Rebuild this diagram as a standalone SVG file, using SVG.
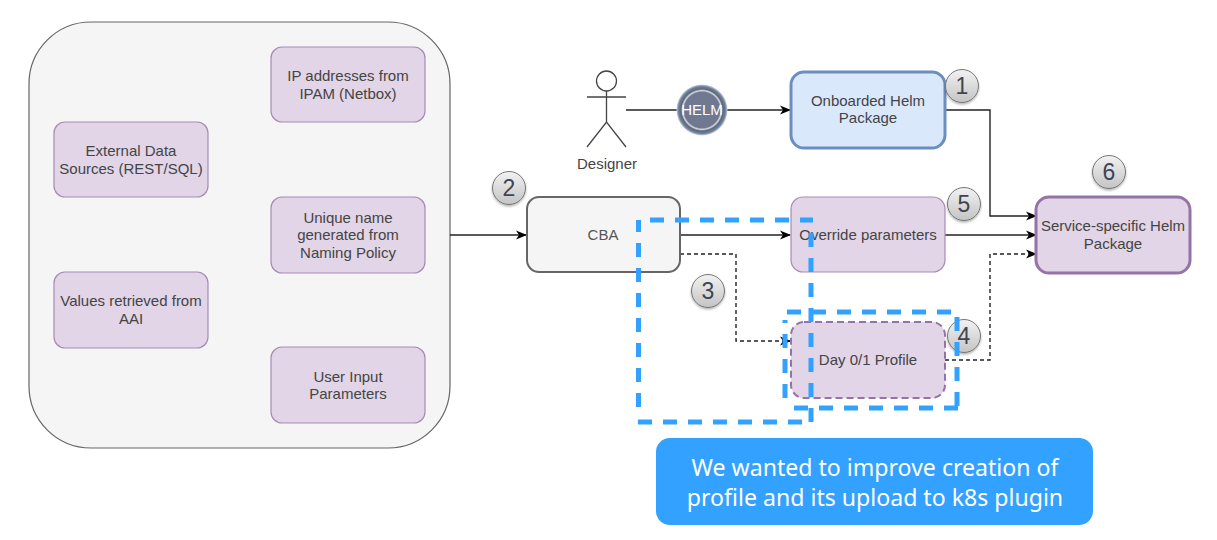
<svg xmlns="http://www.w3.org/2000/svg" width="1217" height="540" viewBox="0 0 1217 540">
<style>
text{font-family:"Liberation Sans",Arial,sans-serif;font-size:15px;fill:#444;text-anchor:middle}
.p{fill:#e1d5e7;stroke:#a78bb5;stroke-width:1.2}
.c{fill:none;stroke:#222;stroke-width:1.4}
.d{fill:none;stroke:#222;stroke-width:1.4;stroke-dasharray:4 3}
.b{fill:url(#bg);stroke:#777;stroke-width:1}
.n{font-size:23px;fill:#3f4550}
.h{fill:none;stroke:#33a1ff;stroke-width:5;stroke-dasharray:14 11}
.w{font-size:23.1px;fill:#fff;font-family:"Noto Sans","Open Sans",sans-serif}
</style>
<defs>
<marker id="ar" markerWidth="11" markerHeight="10" refX="10" refY="5" orient="auto" markerUnits="userSpaceOnUse" viewBox="0 0 11 10"><path d="M0 0.500L11 5L0 9.500L3 5Z" fill="#000"/></marker>
<linearGradient id="bg" x1="0" y1="0" x2="0" y2="1"><stop offset="0" stop-color="#f2f2f2"/><stop offset="1" stop-color="#c4c4c4"/></linearGradient>
<radialGradient id="hg" cx="0.5" cy="0.5" r="0.5"><stop offset="0" stop-color="#707a94"/><stop offset="0.7" stop-color="#6f7890"/><stop offset="0.76" stop-color="#d8dbe6"/><stop offset="0.82" stop-color="#5d6878"/><stop offset="0.92" stop-color="#6f8098"/><stop offset="1" stop-color="#c8d4f0"/></radialGradient>
<filter id="sh" x="-20%" y="-20%" width="140%" height="150%"><feDropShadow dx="0" dy="1.5" stdDeviation="1.2" flood-color="#000" flood-opacity="0.3"/></filter>
</defs>

<g id="container"><rect x="29" y="22" width="421" height="426" rx="62" ry="62" fill="#f5f5f5" stroke="#666" stroke-width="1.2"/></g>

<g id="connectors">
<path class="c" d="M450 235H526" marker-end="url(#ar)"/>
<path class="c" d="M626 110H790" marker-end="url(#ar)"/>
<path class="c" d="M945 110H990V216H1036" marker-end="url(#ar)"/>
<path class="c" d="M680 235H790" marker-end="url(#ar)"/>
<path class="c" d="M945 235H1036" marker-end="url(#ar)"/>
<path class="d" d="M680 254H736V341H790" marker-end="url(#ar)"/>
<path class="d" d="M945 360H990V254H1036" marker-end="url(#ar)"/>
</g>

<g id="ip"><rect class="p" x="271" y="47" width="154" height="75" rx="11"/><text x="348" y="81">IP addresses from</text><text x="348" y="99">IPAM (Netbox)</text></g>
<g id="external"><rect class="p" x="54" y="122" width="154" height="75" rx="11"/><text x="131" y="156">External Data</text><text x="131" y="174">Sources (REST/SQL)</text></g>
<g id="unique"><rect class="p" x="271" y="197" width="154" height="76" rx="11"/><text x="348" y="223">Unique name</text><text x="348" y="240">generated from</text><text x="348" y="258">Naming Policy</text></g>
<g id="aai"><rect class="p" x="54" y="272" width="154" height="76" rx="11"/><text x="131" y="306">Values retrieved from</text><text x="131" y="324">AAI</text></g>
<g id="user"><rect class="p" x="271" y="347" width="154" height="76" rx="11"/><text x="348" y="382">User Input</text><text x="348" y="399">Parameters</text></g>

<g id="designer" fill="none" stroke="#444" stroke-width="1.3">
<circle cx="606.500" cy="81" r="10"/>
<path d="M606.500 91V122M587 97H626M587 147L606.500 122L626 147"/>
<text x="607" y="169" stroke="none">Designer</text>
</g>
<g id="helm"><circle cx="702" cy="110" r="25.500" fill="url(#hg)"/><text x="702" y="115" style="fill:#fff">HELM</text></g>

<g id="onboarded"><rect x="791" y="72" width="154" height="76" rx="13" fill="#dae8fc" stroke="#6c8ebf" stroke-width="3"/><text x="868" y="106">Onboarded Helm</text><text x="868" y="123">Package</text></g>
<g id="cba"><rect x="527" y="197" width="153" height="75" rx="12" fill="#f5f5f5" stroke="#666" stroke-width="2"/><text x="603" y="240" style="fill:#555">CBA</text></g>
<g id="override"><rect class="p" x="791" y="197" width="154" height="75" rx="12"/><text x="868" y="240">Override parameters</text></g>
<g id="profile"><rect class="p" x="791" y="322" width="154" height="76" rx="13" style="stroke:#9673a6;stroke-width:2;stroke-dasharray:7 4"/><text x="868" y="365">Day 0/1 Profile</text></g>
<g id="service"><rect x="1036" y="197" width="154" height="76" rx="13" fill="#e1d5e7" stroke="#9673a6" stroke-width="3"/><text x="1113" y="231">Service-specific Helm</text><text x="1113" y="249">Package</text></g>

<g id="badge1"><circle class="b" cx="962" cy="86" r="16.500" filter="url(#sh)"/><text class="n" x="962" y="94">1</text></g>
<g id="badge2"><circle class="b" cx="509" cy="188" r="16.500" filter="url(#sh)"/><text class="n" x="509" y="196">2</text></g>
<g id="badge3"><circle class="b" cx="708" cy="291" r="16.500" filter="url(#sh)"/><text class="n" x="708" y="299">3</text></g>
<g id="badge4"><circle class="b" cx="964" cy="336" r="16.500" filter="url(#sh)"/><text class="n" x="964" y="344">4</text></g>
<g id="badge5"><circle class="b" cx="964" cy="204" r="16.500" filter="url(#sh)"/><text class="n" x="964" y="212">5</text></g>
<g id="badge6"><circle class="b" cx="1109" cy="172" r="16.500" filter="url(#sh)"/><text class="n" x="1109" y="180">6</text></g>

<g id="highlight-a">
<path class="h" d="M650 220H813"/>
<path class="h" d="M811 233V423"/>
<path class="h" d="M802 422H636"/>
<path class="h" d="M638.500 407V220"/>
</g>
<g id="highlight-b">
<path class="h" d="M787 312H951"/>
<path class="h" d="M957 317V410"/>
<path class="h" d="M958 408H783"/>
<path class="h" d="M785 398V320"/>
</g>

<g id="callout"><rect x="656" y="438" width="437" height="87" rx="14" fill="#33a1ff"/>
<text class="w" x="875" y="476">We wanted to improve creation of</text>
<text class="w" x="875" y="506">profile and its upload to k8s plugin</text></g>
</svg>
